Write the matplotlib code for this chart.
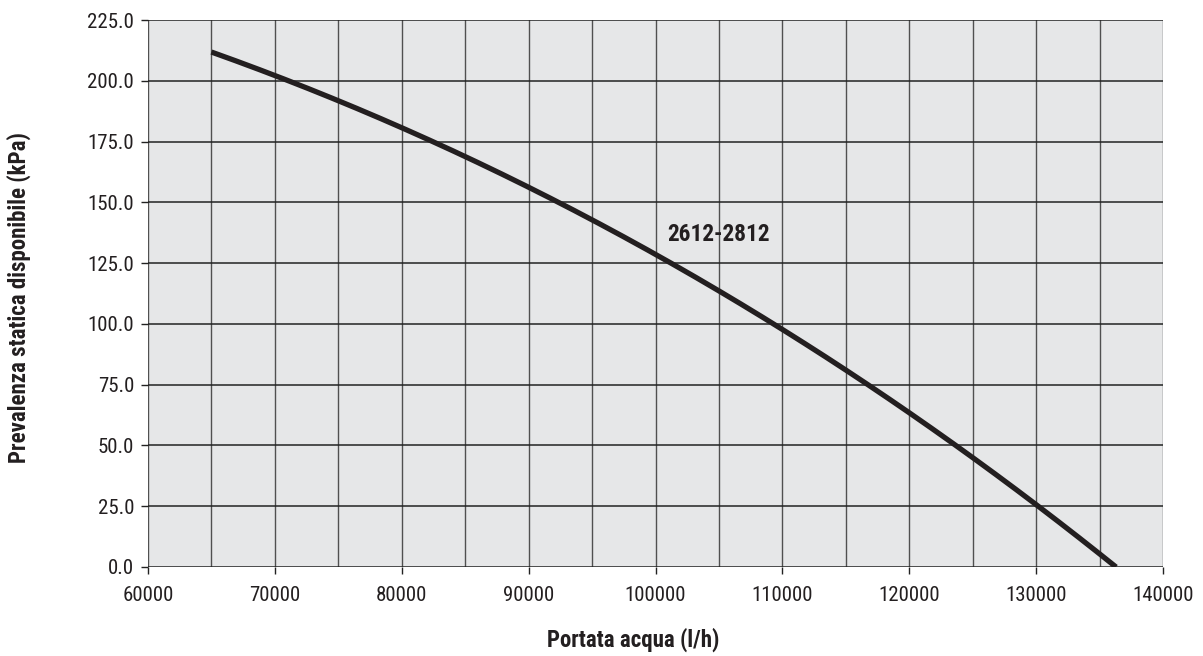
import matplotlib
matplotlib.use("Agg")
import matplotlib.pyplot as plt
from matplotlib import font_manager
import numpy as np

# Pump curve: available static head vs water flow
portata = [65000, 70000, 75000, 80000, 85000, 90000, 95000, 100000,
           105000, 110000, 115000, 120000, 125000, 130000, 136300]
prevalenza = [211.2, 202.5, 192.3, 181.5, 168.8, 155.5, 142.0, 128.3,
              113.5, 98.3, 81.5, 63.8, 44.5, 25.5, 0.0]
serie_label = "2612-2812"

x_ticks = [60000, 70000, 80000, 90000, 100000, 110000, 120000, 130000, 140000]
y_ticks = [0.0, 25.0, 50.0, 75.0, 100.0, 125.0, 150.0, 175.0, 200.0, 225.0]

# a condensed sans for all text
names = {f.name for f in font_manager.fontManager.ttflist}
preferred = ["Roboto Condensed", "Archivo Narrow", "PT Sans Narrow",
             "Liberation Sans Narrow", "IBM Plex Sans Condensed",
             "Fira Sans Condensed", "Sofia Sans Condensed", "Liberation Sans"]
family = next((n for n in preferred if n in names), "DejaVu Sans")
plt.rcParams["font.family"] = [family, "DejaVu Sans"]

fig = plt.figure(figsize=(12.03, 6.56), dpi=100)
ax = fig.add_axes([0.123, 0.1357, 0.8438, 0.8338])
ax.set_facecolor("#e6e7e8")

ax.set_xlim(60000, 140000)
ax.set_ylim(0, 225)

# grid: vertical every 5000, horizontal every 25
for xv in np.arange(60000, 140001, 5000):
    ax.axvline(xv, color="#505050", lw=1.0, zorder=1)
for yv in y_ticks:
    ax.axhline(yv, color="#222222", lw=1.1, zorder=1)

for s in ax.spines.values():
    s.set_visible(False)

# smooth curve through the read points
xs = np.array(portata, dtype=float)
ys = np.array(prevalenza, dtype=float)
coef = np.polyfit(xs, ys, 3)
xx = np.linspace(xs[0], xs[-1], 300)
yy = np.polyval(coef, xx)
ax.plot(xx, yy, color="#231f20", lw=3.8, solid_capstyle="butt", zorder=3)

ax.text(100900, 136.8, serie_label, fontsize=16.8, fontweight="bold",
        color="#231f20", ha="left", va="center", zorder=4)

ax.set_xticks(x_ticks)
ax.set_xticklabels([f"{v:d}" for v in x_ticks])
ax.set_yticks(y_ticks)
ax.set_yticklabels([f"{v:.1f}" for v in y_ticks])
ax.tick_params(axis="both", direction="out", length=5, width=1.0,
               color="#222222", labelsize=15, labelcolor="#231f20", pad=5)
ax.tick_params(axis="x", pad=9)

fig.text(0.526, 0.025, "Portata acqua (l/h)", ha="center", va="center",
         fontsize=16.5, fontweight="bold", color="#231f20")
fig.text(0.016, 0.546, "Prevalenza statica disponibile (kPa)", ha="center",
         va="center", rotation=90, fontsize=16.5, fontweight="bold",
         color="#231f20")

fig.savefig("out.png", dpi=100, facecolor="white")
